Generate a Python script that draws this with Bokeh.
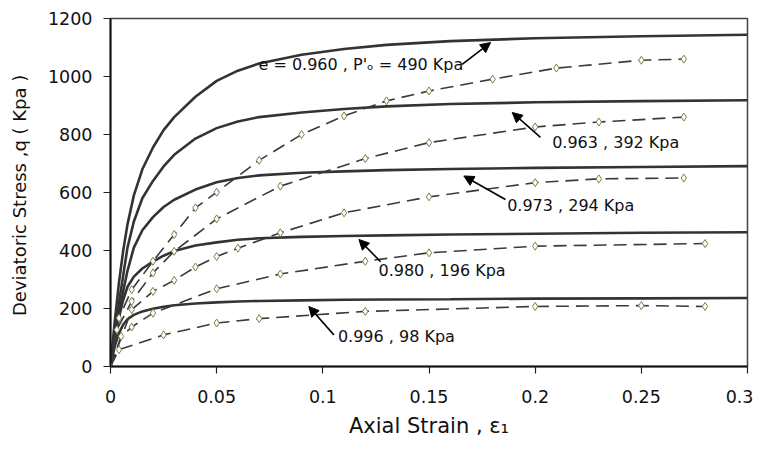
from bokeh.plotting import figure
from bokeh.models import Range1d, FixedTicker, Label, Arrow, NormalHead
from bokeh.embed import file_html
from bokeh.resources import INLINE

# ---- model curves (solid) ----
model_x = [0, 0.001, 0.002, 0.004, 0.006, 0.008, 0.011, 0.015, 0.02, 0.025, 0.03,
           0.04, 0.05, 0.06, 0.07, 0.09, 0.11, 0.13, 0.16, 0.2, 0.25, 0.3]
model_490 = [0, 80, 155, 290, 400, 490, 590, 680, 755, 815, 860, 930, 985, 1020, 1045,
             1075, 1095, 1109, 1122, 1132, 1139, 1144]
model_392 = [0, 60, 115, 220, 315, 410, 500, 580, 640, 690, 730, 786, 822, 845, 860,
             876, 888, 897, 905, 911, 915, 918]
model_294 = [0, 50, 95, 180, 260, 330, 410, 470, 515, 550, 575, 610, 635, 650, 659,
             668, 673, 677, 681, 685, 688, 691]
model_196 = [0, 45, 90, 170, 230, 275, 310, 338, 362, 382, 398, 417, 428, 437, 442,
             447, 450, 452, 455, 458, 461, 463]
model_98 = [0, 35, 70, 115, 145, 163, 178, 190, 199, 206, 211, 217, 221, 224, 226,
            228, 230, 231, 232, 234, 235, 236]

# ---- test data (dashed with diamonds) ----
test_x_490 = [0, 0.004, 0.01, 0.02, 0.03, 0.04, 0.05, 0.07, 0.09, 0.11, 0.13, 0.15, 0.18, 0.21, 0.25, 0.27]
test_q_490 = [0, 167, 265, 363, 455, 547, 601, 711, 800, 864, 916, 950, 991, 1029, 1056, 1060]
test_x_392 = [0, 0.003, 0.01, 0.02, 0.03, 0.05, 0.08, 0.12, 0.15, 0.2, 0.23, 0.27]
test_q_392 = [0, 127, 225, 323, 397, 509, 622, 717, 772, 826, 843, 860]
test_x_294 = [0, 0.01, 0.02, 0.03, 0.04, 0.05, 0.06, 0.08, 0.11, 0.15, 0.2, 0.23, 0.27]
test_q_294 = [0, 196, 259, 297, 343, 379, 408, 461, 530, 585, 634, 647, 650]
test_x_196 = [0, 0.005, 0.01, 0.02, 0.05, 0.08, 0.12, 0.15, 0.2, 0.28]
test_q_196 = [0, 104, 136, 184, 268, 319, 363, 392, 415, 424]
test_x_98 = [0, 0.004, 0.025, 0.05, 0.07, 0.12, 0.2, 0.25, 0.28]
test_q_98 = [0, 58, 109, 150, 165, 190, 207, 210, 207]

# ---- ticks ----
x_ticks = [0, 0.05, 0.1, 0.15, 0.2, 0.25, 0.3]
x_tick_labels = ["0", "0.05", "0.1", "0.15", "0.2", "0.25", "0.3"]
y_ticks = [0, 200, 400, 600, 800, 1000, 1200]

# ---- annotations: text, text position, arrow tail, arrow head ----
ann_text = ["e = 0.960 , P'\u2092 = 490 Kpa", "0.963 , 392 Kpa", "0.973 , 294 Kpa",
            "0.980 , 196 Kpa", "0.996 , 98 Kpa"]
ann_x = [0.0697, 0.208, 0.1868, 0.1262, 0.1071]
ann_q = [1040, 774, 555, 332, 104]
arr_x0 = [0.1656, 0.2025, 0.186, 0.1272, 0.1052]
arr_q0 = [1042, 790, 576, 361, 109]
arr_x1 = [0.179, 0.1892, 0.1664, 0.117, 0.0934]
arr_q1 = [1117, 876, 657, 438, 207]

FONT = "DejaVu Sans"
DARK = "#333333"

p = figure(frame_width=637, frame_height=348, output_backend="svg", toolbar_location=None,
           x_range=Range1d(0, 0.3), y_range=Range1d(0, 1200),
           min_border_left=110, min_border_right=6, min_border_top=18, min_border_bottom=78)
p.background_fill_color = "white"
p.border_fill_color = "white"
p.outline_line_color = "#444444"
p.outline_line_width = 1.5
p.xgrid.visible = False
p.ygrid.visible = False

for ax in (p.xaxis[0], p.yaxis[0]):
    ax.axis_line_color = "#111111"
    ax.axis_line_width = 2
    ax.major_tick_in = 0
    ax.major_tick_out = 7
    ax.major_tick_line_color = "#222222"
    ax.major_tick_line_width = 1.2
    ax.minor_tick_line_color = None
    ax.major_label_text_font = FONT
    ax.major_label_text_font_size = "17.5px"
    ax.major_label_text_color = "#111111"
    ax.axis_label_text_font = FONT
    ax.axis_label_text_font_style = "normal"
    ax.axis_label_text_color = "#111111"

p.xaxis.ticker = FixedTicker(ticks=x_ticks)
p.xaxis.major_label_overrides = {t: l for t, l in zip(x_ticks, x_tick_labels)}
p.xaxis.major_label_standoff = 16
p.xaxis.axis_label = "Axial Strain , \u03b5\u2081"
p.xaxis.axis_label_text_font_size = "21px"
p.xaxis.axis_label_standoff = 8

p.yaxis.ticker = FixedTicker(ticks=y_ticks)
p.yaxis.major_label_standoff = 11
p.yaxis.axis_label = "Deviatoric Stress ,q  ( Kpa )"
p.yaxis.axis_label_text_font_size = "18px"
p.yaxis.axis_label_standoff = 15

# model curves
for q in (model_490, model_392, model_294, model_196, model_98):
    p.line(model_x, q, line_color=DARK, line_width=2.6)

# test curves
tests = [(test_x_490, test_q_490), (test_x_392, test_q_392), (test_x_294, test_q_294),
         (test_x_196, test_q_196), (test_x_98, test_q_98)]
for xs, qs in tests:
    p.line(xs, qs, line_color="#3a3a3a", line_width=1.6, line_dash="13 7")
    p.scatter(xs, qs, marker="diamond", size=8, line_color="#7d7d55", line_width=1,
              fill_color="#fffff5")

for t, x, q in zip(ann_text, ann_x, ann_q):
    p.add_layout(Label(x=x, y=q, text=t, text_font=FONT, text_font_size="16px",
                       text_color="#111111", text_baseline="middle", text_align="left"))

for x0, q0, x1, q1 in zip(arr_x0, arr_q0, arr_x1, arr_q1):
    p.add_layout(Arrow(end=NormalHead(size=10, fill_color="black", line_color="black"),
                       x_start=x0, y_start=q0, x_end=x1, y_end=q1,
                       line_color="black", line_width=1.6))

open("out.html", "w").write(file_html(p, INLINE))
